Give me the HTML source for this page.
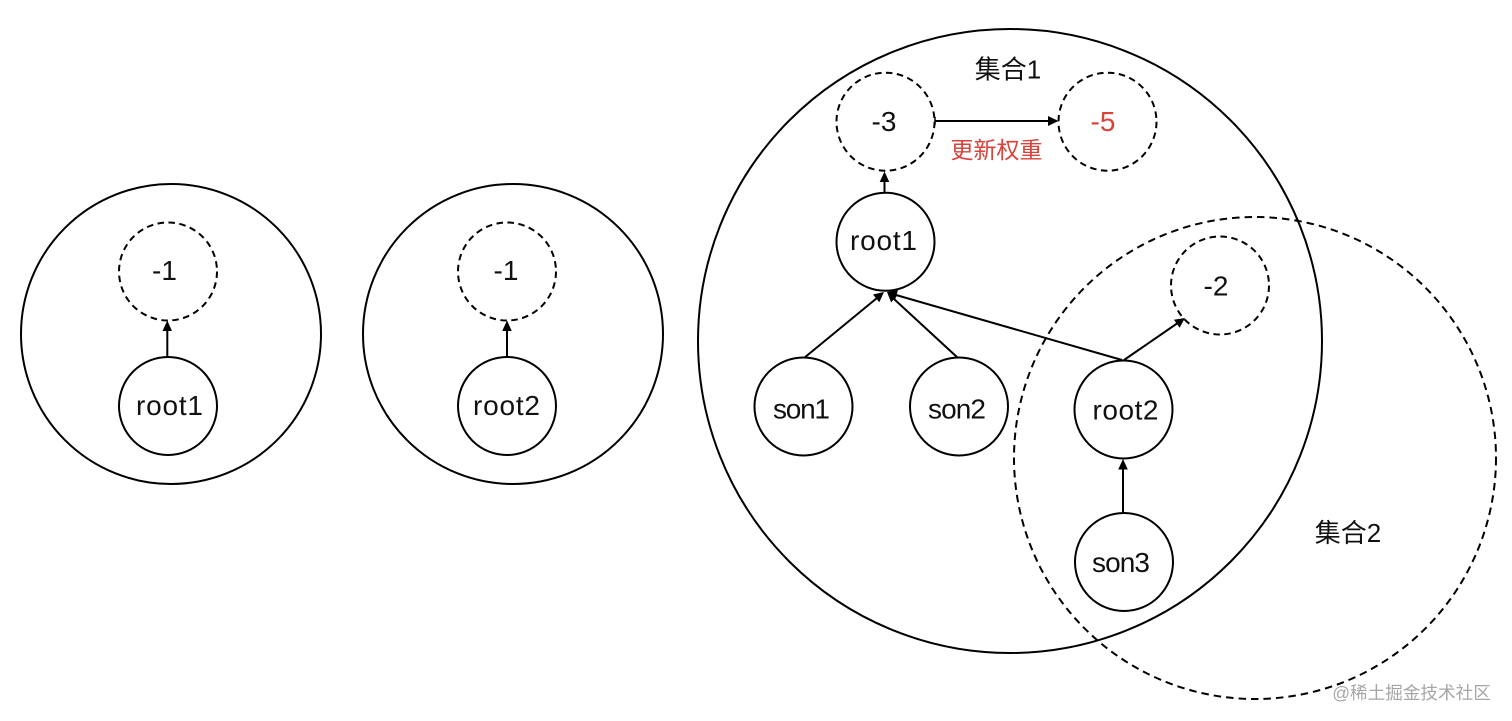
<!DOCTYPE html>
<html>
<head>
<meta charset="utf-8">
<style>
html,body{margin:0;padding:0;background:#fff;width:1512px;height:721px;overflow:hidden}
svg{display:block}
text{font-family:"Liberation Sans","Noto Sans CJK SC",sans-serif;font-size:28px;fill:#111;text-anchor:middle}
.c{font-size:26px}
.s{fill:none;stroke:#000;stroke-width:2}
.d{fill:none;stroke:#000;stroke-width:2;stroke-dasharray:6.5 4.5}
.dl{fill:none;stroke:#000;stroke-width:2;stroke-dasharray:7.5 5}
.a{fill:#000;stroke:none}
</style>
</head>
<body>
<svg width="1512" height="721" viewBox="0 0 1512 721" xmlns="http://www.w3.org/2000/svg">
<rect width="1512" height="721" fill="#fff"/>
<circle class="s" cx="171" cy="334" r="150"/>
<circle class="d" cx="168" cy="271.5" r="49"/>
<circle class="s" cx="168" cy="406" r="49"/>
<line class="s" x1="167.3" y1="357" x2="167.3" y2="330"/>
<polygon class="a" points="167.3,320.5 162.5,331 172,331"/>
<text x="164.5" y="280">-1</text>
<text x="169.5" y="415" textLength="67">root1</text>

<circle class="s" cx="513" cy="334" r="150"/>
<circle class="d" cx="507" cy="271.5" r="49"/>
<circle class="s" cx="507" cy="406" r="49"/>
<line class="s" x1="507" y1="357" x2="507" y2="330"/>
<polygon class="a" points="507,320.5 502.2,331 511.8,331"/>
<text x="506" y="280">-1</text>
<text x="506.5" y="415" textLength="67">root2</text>

<circle class="s" cx="1010" cy="341" r="312"/>
<circle class="dl" cx="1255" cy="458" r="241"/>
<circle class="d" cx="885.5" cy="121.7" r="49"/>
<circle class="d" cx="1107.5" cy="121.7" r="49"/>
<circle class="s" cx="885.5" cy="241.7" r="49"/>
<circle class="s" cx="803.5" cy="406.5" r="49"/>
<circle class="s" cx="959" cy="406.5" r="49"/>
<circle class="s" cx="1123.5" cy="409.5" r="49"/>
<circle class="d" cx="1220" cy="285.5" r="49"/>
<circle class="s" cx="1124" cy="562" r="49"/>

<line class="s" x1="935" y1="121" x2="1050" y2="121"/>
<line x1="935" y1="117" x2="935" y2="125" stroke="#000" stroke-width="1.5"/>
<polygon class="a" points="1058.5,121 1048,116 1048,126"/>
<line class="s" x1="884.5" y1="193" x2="884.5" y2="181"/>
<polygon class="a" points="884.5,171.5 879.7,182 889.3,182"/>
<line class="s" x1="804" y1="358" x2="877" y2="298"/>
<polygon class="a" points="884,292 873,294.5 879.3,302.2"/>
<line class="s" x1="958" y1="358" x2="894" y2="299"/>
<polygon class="a" points="887,292 897.7,295 891.1,302.4"/>
<line class="s" x1="1122" y1="360" x2="896" y2="295"/>
<polygon class="a" points="887,292 898,290 895.2,299.5"/>
<line class="s" x1="1124" y1="360" x2="1177" y2="323.5"/>
<polygon class="a" points="1185,318 1173.9,319.8 1179.6,327.8"/>
<line class="s" x1="1123" y1="513" x2="1123" y2="468"/>
<polygon class="a" points="1123,459 1118.2,469.5 1127.8,469.5"/>

<text class="c" x="1008" y="78.5">集合1</text>
<text class="c" x="1348" y="542">集合2</text>
<text x="884" y="131">-3</text>
<text x="1103" y="131" style="fill:#d8423a">-5</text>
<text x="996.5" y="158" style="fill:#d8423a;font-size:23px">更新权重</text>
<text x="883.5" y="250" textLength="67">root1</text>
<text x="801.5" y="418.5" textLength="57">son1</text>
<text x="957" y="418.5" textLength="58">son2</text>
<text x="1125.5" y="419.5" textLength="66">root2</text>
<text x="1216" y="295.5">-2</text>
<text x="1121" y="572" textLength="58">son3</text>
<text x="1411.5" y="699" style="font-size:17.6px;fill:#a6a6a6">@稀土掘金技术社区</text>
</svg>
</body>
</html>
